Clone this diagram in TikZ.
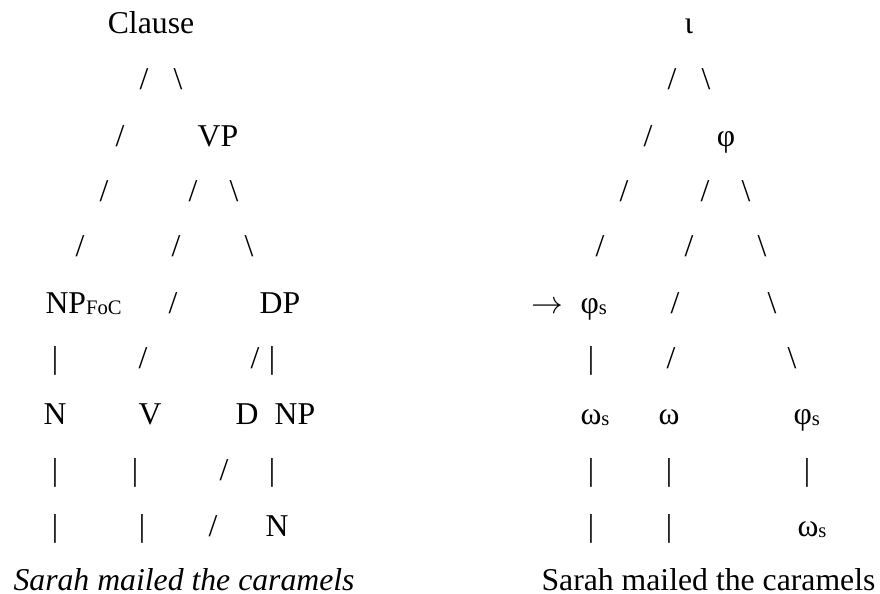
\documentclass[tikz,border=0pt]{standalone}
\usepackage{fontspec}
\setmainfont{Liberation Serif}
\usepackage{tikz}

\newcommand{\lowsub}[1]{\raisebox{-0.6pt}{\fontsize{7.8}{8}\selectfont #1}}

\tikzset{
  word/.style={inner sep=0pt, anchor=base},
  wordl/.style={inner sep=0pt, anchor=base west}
}

\begin{document}
\begin{tikzpicture}[x=0.3782pt, y=-0.3782pt, font=\fontsize{12}{14}\selectfont]
\useasboundingbox (0,0) rectangle (880,593);

% syntactic tree
\node[word] (Clause) at (151,33) {Clause};
\node[word] (a1) at (144,89) {/};
\node[word] (a2) at (178,89) {\textbackslash};
\node[word] (b1) at (120,146) {/};
\node[word] (VP) at (218,146) {VP};
\node[word] (c1) at (104,201) {/};
\node[word] (c2) at (193,201) {/};
\node[word] (c3) at (234,201) {\textbackslash};
\node[word] (d1) at (80,256) {/};
\node[word] (d2) at (176,256) {/};
\node[word] (d3) at (249,256) {\textbackslash};
\node[wordl] (NPf) at (45,313) {NP\lowsub{FoC}};
\node[word] (e1) at (173,313) {/};
\node[word] (DP) at (280,313) {DP};
\node[word] (f1) at (55,368) {|};
\node[word] (f2) at (143,368) {/};
\node[word] (f3) at (255,368) {/};
\node[word] (f4) at (272,368) {|};
\node[word] (N) at (55,424) {N};
\node[word] (V) at (150,424) {V};
\node[word] (D) at (247,424) {D};
\node[word] (NP) at (295,424) {NP};
\node[word] (g1) at (55,480) {|};
\node[word] (g2) at (135,480) {|};
\node[word] (g3) at (224,480) {/};
\node[word] (g4) at (272,480) {|};
\node[word] (h1) at (55,536) {|};
\node[word] (h2) at (142,536) {|};
\node[word] (h3) at (213,536) {/};
\node[word] (N2) at (277,536) {N};
\node[wordl] (synS) at (13,590) {\itshape Sarah mailed the caramels};

% prosodic tree
\node[word] (iota) at (689,33) {ι};
\node[word] (p1) at (672,89) {/};
\node[word] (p2) at (706,89) {\textbackslash};
\node[word] (q1) at (648,146) {/};
\node[word] (phi) at (726,146) {φ};
\node[word] (r1) at (624,201) {/};
\node[word] (r2) at (705,201) {/};
\node[word] (r3) at (746,201) {\textbackslash};
\node[word] (s1) at (600,256) {/};
\node[word] (s2) at (689,256) {/};
\node[word] (s3) at (762,256) {\textbackslash};
\node[word] (arr) at (547,313) {$\rightarrow$};
\node[wordl] (phis1) at (580,313) {φ\lowsub{s}};
\node[word] (t1) at (675,313) {/};
\node[word] (t2) at (772,313) {\textbackslash};
\node[word] (u1) at (591,368) {|};
\node[word] (u2) at (671,368) {/};
\node[word] (u3) at (792,368) {\textbackslash};
\node[wordl] (omes1) at (580,424) {ω\lowsub{s}};
\node[word] (ome) at (669,424) {ω};
\node[wordl] (phis2) at (793,424) {φ\lowsub{s}};
\node[word] (v1) at (591,480) {|};
\node[word] (v2) at (669,480) {|};
\node[word] (v3) at (807,480) {|};
\node[word] (w1) at (591,536) {|};
\node[word] (w2) at (669,536) {|};
\node[wordl] (omes2) at (797,536) {ω\lowsub{s}};
\node[wordl] (proS) at (541,590) {Sarah mailed the caramels};

\end{tikzpicture}
\end{document}
